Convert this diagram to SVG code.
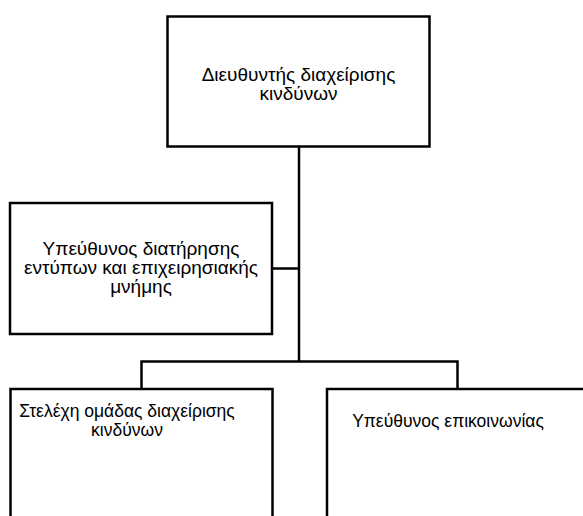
<svg xmlns="http://www.w3.org/2000/svg" width="583" height="516" viewBox="0 0 583 516">
  <style>
    .box { fill: #ffffff; stroke: #000000; stroke-width: 2.5; }
    .link { fill: none; stroke: #000000; stroke-width: 2.5; }
    .label { font-family: "Liberation Sans", Arial, sans-serif; font-size: 19px; fill: #000000; text-anchor: middle; }
    .small { font-size: 17.5px; }
  </style>
  <rect width="583" height="516" fill="#ffffff"/>

  <g id="connectors">
    <polyline class="link" points="299,146 299,361.5"/>
    <polyline class="link" points="272,268.5 299,268.5"/>
    <polyline class="link" points="141.5,389 141.5,361.5 457.5,361.5 457.5,389"/>
  </g>

  <g id="risk-director">
    <rect class="box" x="167.5" y="16.5" width="262" height="130"/>
    <text class="label" x="298.5" y="81">Διευθυντής διαχείρισης</text>
    <text class="label" x="298.5" y="100">κινδύνων</text>
  </g>

  <g id="records-officer">
    <rect class="box" x="10" y="203" width="262" height="131"/>
    <text class="label" x="141" y="255">Υπεύθυνος διατήρησης</text>
    <text class="label" x="141" y="274">εντύπων και επιχειρησιακής</text>
    <text class="label" x="141" y="293">μνήμης</text>
  </g>

  <g id="risk-team">
    <rect class="box" x="10.5" y="389" width="262" height="160"/>
    <text class="label small" x="127" y="417">Στελέχη ομάδας διαχείρισης</text>
    <text class="label small" x="127" y="435.5">κινδύνων</text>
  </g>

  <g id="communications-officer">
    <rect class="box" x="327" y="389" width="262" height="160"/>
    <text class="label small" x="448" y="427">Υπεύθυνος επικοινωνίας</text>
  </g>
</svg>
